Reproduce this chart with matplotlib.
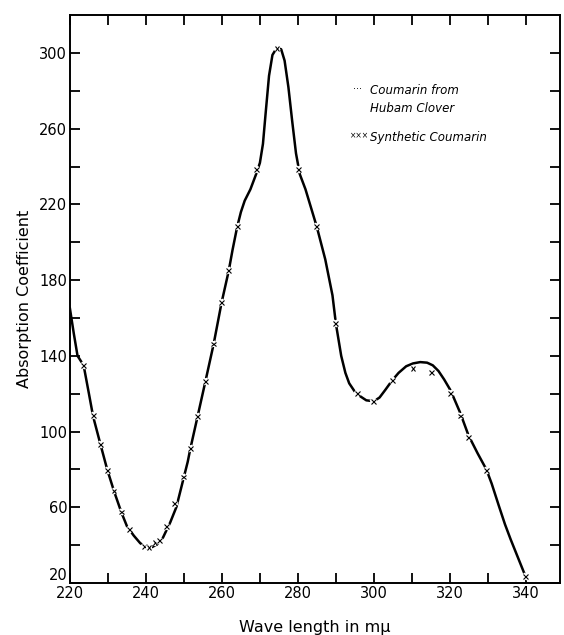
import numpy as np
import matplotlib
matplotlib.use('agg')
import matplotlib.pyplot as plt
import matplotlib.patheffects as pe
from matplotlib.ticker import MultipleLocator, FixedLocator

# Coumarin from Hubam Clover (curve)
clover_wl = [220, 221, 222, 223.6, 225, 226.1, 228, 229.8, 231.6, 233.5,
             235, 236.8, 238.5, 240, 241.5, 243, 244.5, 246.4, 248, 249.5,
             251, 251.7, 253.6, 255.6, 257.8, 259.9, 261.8, 262.8, 264, 265,
             266, 267.5, 269, 270, 270.8, 271.5, 272.4, 273.3, 274.5, 275.6,
             276.5, 277.5, 278.5, 279.5, 280.5, 282, 285, 287.2, 289.1, 290,
             291.4, 292.5, 293.5, 295, 296.5, 298, 300, 301.5, 303, 304.8,
             306.5, 308.5, 310.3, 312.2, 314, 315.5, 317, 318.5, 320.2, 322.7,
             324.9, 327.3, 329.6, 331, 332.9, 334.5, 336, 338, 340]
clover_abs = [165, 152, 140, 135, 120, 108, 93.5, 80, 68.5, 57.5,
              50, 45, 41, 39, 38.8, 40.5, 44, 52, 60, 72,
              84, 91, 108, 126, 146, 168, 185, 196, 208, 216,
              222, 228, 236, 242, 252, 268, 288, 299, 303, 302,
              296, 282, 264, 247, 236, 228, 208, 191, 172, 157,
              140, 131, 125.5, 121, 118.5, 116.5, 116, 118, 122, 127,
              131, 134.5, 136, 136.7, 136.4, 135, 132, 127.5, 121.7, 110,
              98, 88.5, 80, 72.5, 60.7, 51, 43, 33, 23]

# Synthetic Coumarin (x markers)
synth_wl = [223.6, 226.1, 228.0, 229.8, 231.6, 233.5, 235.6, 239.6, 240.8, 242.4,
            243.6, 245.4, 247.6, 249.8, 251.7, 253.6, 255.6, 257.8, 259.9, 261.8,
            264.0, 269.0, 274.5, 280.1, 285.0, 290.0, 295.7, 299.9, 304.8, 310.3,
            315.2, 320.2, 322.7, 324.9, 329.6, 340.0]
synth_abs = [135, 108.4, 93.2, 79.5, 68.6, 57.5, 48.3, 39.3, 38.8, 41.4,
             42.3, 50, 61.8, 76, 91.1, 107.8, 126.4, 146.3, 168.2, 185.3,
             208.4, 238.4, 302.2, 238.4, 208.4, 157, 120.2, 115.9, 127.1, 133.1,
             131.3, 120.2, 108.2, 96.7, 79.5, 23.2]

plt.rcParams['font.family'] = ['DejaVu Sans']

fig = plt.figure(figsize=(5.64, 6.35), dpi=100)
ax = fig.add_axes([0.124, 0.082, 0.869, 0.894])

ax.plot(clover_wl, clover_abs, color='black', lw=1.8, solid_joinstyle='round')
ax.plot(synth_wl, synth_abs, ls='none', marker='x', ms=3.5, mew=0.8, color='black',
        path_effects=[pe.withStroke(linewidth=3, foreground='white')])

ax.set_xlim(220, 349)
ax.set_ylim(20, 320)
ax.xaxis.set_major_locator(FixedLocator([220, 240, 260, 280, 300, 320, 340]))
ax.xaxis.set_minor_locator(MultipleLocator(10))
ax.yaxis.set_major_locator(FixedLocator([20, 60, 100, 140, 180, 220, 260, 300]))
ax.yaxis.set_minor_locator(FixedLocator([40, 80, 120, 160, 200, 240, 280]))
ax.tick_params(which='both', direction='in', top=True, right=True, length=7,
               width=1.3, labelsize=10.5, pad=2)
for s in ax.spines.values():
    s.set_linewidth(1.4)

# the "20" sits just above the bottom axis line, as in the original
fig.canvas.draw()
ax.get_yticklabels()[0].set_va('bottom')

ax.set_xlabel('Wave length in m\u03bc', fontsize=11.5, labelpad=14)
ax.set_ylabel('Absorption Coefficient', fontsize=11.5, labelpad=5)

leg_kw = dict(fontsize=8.5, style='italic', va='center', ha='left',
              transform=fig.transFigure)
ax.text(0.656, 1 - 91 / 635, 'Coumarin from', **leg_kw)
ax.text(0.656, 1 - 108.5 / 635, 'Hubam Clover', **leg_kw)
ax.text(0.656, 1 - 137.6 / 635, 'Synthetic Coumarin', **leg_kw)
ax.text(0.626, 1 - 89 / 635, '\u00b7\u00b7\u00b7', transform=fig.transFigure,
        fontsize=7, va='center', ha='left')
ax.text(0.620, 1 - 136 / 635, '\u00d7\u00d7\u00d7', transform=fig.transFigure,
        fontsize=5.5, va='center', ha='left')

fig.savefig('out.png', dpi=100)
